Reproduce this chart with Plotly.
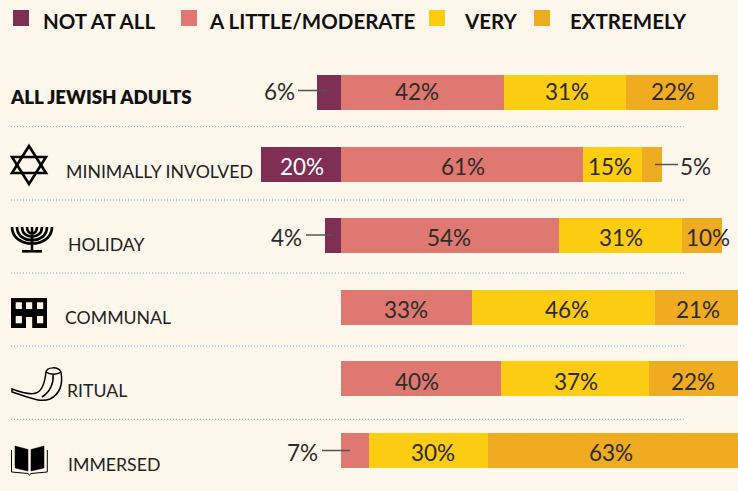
import plotly.graph_objects as go

# ---- data ----
categories = ["ALL JEWISH ADULTS", "MINIMALLY INVOLVED", "HOLIDAY", "COMMUNAL", "RITUAL", "IMMERSED"]
series_names = ["NOT AT ALL", "A LITTLE/MODERATE", "VERY", "EXTREMELY"]
not_at_all = [-6.05, -20.15, -4.0, 0, 0, 0]
little = [41.06, 60.96, 54.9, 33.0, 40.3, 7.05]
very = [30.73, 14.86, 31.0, 46.1, 37.3, 30.0]
extremely = [23.17, 5.04, 10.08, 20.9, 22.4, 62.95]
labels_not = ["6%", "20%", "4%", "", "", ""]
labels_little = ["42%", "61%", "54%", "33%", "40%", "7%"]
labels_very = ["31%", "15%", "31%", "46%", "37%", "30%"]
labels_ext = ["22%", "5%", "10%", "21%", "22%", "63%"]
colors = ["#7F2F54", "#DE7871", "#FBCC11", "#F0AC20"]

# ---- page geometry ----
W, H = 738, 491
BG = "#FEF7EC"
INK = "#2E2B2A"
FONT = "Lato"
px = lambda x: x / W
py = lambda y: 1 - y / H
ZERO_X, UNIT = 341, 3.97
ROW0, ROW_STEP = 92.5, 71.6

fig = go.Figure()
for name, vals, col in zip(series_names, [not_at_all, little, very, extremely], colors):
    fig.add_bar(y=categories, x=vals, name=name, orientation="h", marker=dict(color=col, line_width=0),
                width=35 / ROW_STEP, showlegend=False, hoverinfo="x+y+name")

ann, shp = [], []


def text(x, y, s, size, color=INK, weight=400, anchor="left"):
    ann.append(dict(x=px(x), y=py(y), xref="paper", yref="paper", text=s, showarrow=False, xanchor=anchor,
                    yanchor="middle", font=dict(family=FONT, size=size, color=color, weight=weight)))


def line(x0, y0, x1, y1, color="#555", width=1.5, dash="solid"):
    shp.append(dict(type="line", xref="paper", yref="paper", x0=px(x0), y0=py(y0), x1=px(x1), y1=py(y1),
                    line=dict(color=color, width=width, dash=dash), layer="above"))


def path(cmds, fill=None, width=0, color="#000"):
    """cmds is a list of (letter, x, y, x, y...) tuples in page pixels."""
    out = []
    for c in cmds:
        if c[0] == "Z":
            out.append("Z")
            continue
        nums = c[1:]
        pts = " ".join(f"{px(nums[i]):.5f},{py(nums[i + 1]):.5f}" for i in range(0, len(nums), 2))
        out.append(c[0] + " " + pts)
    shp.append(dict(type="path", xref="paper", yref="paper", path=" ".join(out), layer="above",
                    fillcolor=fill if fill else "rgba(0,0,0,0)",
                    line=dict(color=color, width=width)))


def rect(x0, y0, x1, y1, fill):
    shp.append(dict(type="rect", xref="paper", yref="paper", x0=px(x0), y0=py(y0), x1=px(x1), y1=py(y1),
                    fillcolor=fill, line_width=0, layer="above"))


# legend
for sq_x, tx, name, col in zip([13, 181, 429, 534], [41, 207, 462, 568], series_names, colors):
    rect(sq_x, 10, sq_x + 16, 26, col)
    text(tx, 21, name, 20.5, "#111", 700)

# row titles
text(8, 97, categories[0], 18.7, "#111", 800)
for x, y, s in zip([64, 66, 63, 65, 66], [171, 244, 317, 390, 464], categories[1:]):
    text(x, y, s, 17.7, "#222", 400)

# value labels
LABEL_Y = [92, 166, 238, 309, 381, 452]
LABEL_X = [
    [279, 417, 567, 673],
    [302, 463, 610, 695],
    [286, 449, 621, 708],
    [None, 406, 567, 698],
    [None, 417, 576, 693],
    [None, 302, 433, 611],
]
for i in range(len(categories)):
    row = [labels_not[i], labels_little[i], labels_very[i], labels_ext[i]]
    for j, s in enumerate(row):
        if s:
            c = "#FFFFFF" if (i == 1 and j == 0) else INK
            text(LABEL_X[i][j], LABEL_Y[i], s, 22.5, c, 400, "center")

# leader lines
line(298, 90.5, 327, 90.5)
line(655, 164.5, 678, 164.5)
line(306, 235, 333, 235)
line(322, 450.5, 350, 450.5)

# separators
for y in [126.7, 200, 273, 346, 419.3]:
    line(11, y, 684, y, "#5FAEF0", 1, "1px,2px")

# star
path([("M", 29, 146), ("L", 12, 173), ("L", 46, 173), ("Z",)], width=2.6)
path([("M", 29, 184), ("L", 12, 157), ("L", 46, 157), ("Z",)], width=2.6)

# menorah
for r, h in [(20, 17), (15, 13.5), (10, 10), (5, 6.5)]:
    path([("M", 32 - r, 227), ("C", 32 - r, 227 + h * 1.3, 32 + r, 227 + h * 1.3, 32 + r, 227)], width=2.7)
line(32, 227, 32, 251, "#000", 2.6)
line(22, 251.3, 42, 251.3, "#000", 2.6)

# building
rect(11, 298, 47, 328, "#000")
for wx in [15.7, 26, 37]:
    rect(wx, 302.3, wx + 6.2, 309, BG)
for wx in [15.7, 37]:
    rect(wx, 316, wx + 6.2, 323.3, BG)
rect(26, 317, 32.2, 328, BG)

# shofar
path([("M", 12, 389), ("C", 20, 392, 30, 395, 36, 393), ("C", 43, 391, 45, 381, 46, 372),
      ("C", 47, 367, 58, 366, 61, 372), ("C", 63, 384, 60, 394, 50, 399),
      ("C", 40, 403, 28, 397, 12, 392), ("Z",)], width=1.5)
path([("M", 46, 372), ("C", 50, 375, 57, 375, 61, 372)], width=1.5)
path([("M", 53, 375), ("C", 54, 383, 50, 392, 42, 397)], width=1.5)

# book
path([("M", 15, 446), ("L", 28, 449.5), ("L", 28, 471), ("L", 15, 468), ("Z",)], fill="#000", width=0.5)
path([("M", 31, 449.5), ("L", 44, 446), ("L", 44, 468), ("L", 31, 471), ("Z",)], fill="#000", width=0.5)
path([("M", 11.5, 450), ("L", 11.5, 472), ("L", 28, 473.5), ("L", 29.5, 475), ("L", 31, 473.5),
      ("L", 47.3, 472), ("L", 47.3, 450)], width=1)

fig.update_layout(
    width=W, height=H, autosize=False, barmode="relative", bargap=0,
    paper_bgcolor=BG, plot_bgcolor=BG, margin=dict(l=0, r=0, t=0, b=0), showlegend=False,
    font=dict(family=FONT, color=INK),
    xaxis=dict(range=[-ZERO_X / UNIT, (W - ZERO_X) / UNIT], visible=False, domain=[0, 1], fixedrange=True),
    yaxis=dict(type="category", categoryorder="array", categoryarray=categories, visible=False,
               range=[(H - ROW0) / ROW_STEP, -ROW0 / ROW_STEP], domain=[0, 1], fixedrange=True),
    annotations=ann, shapes=shp,
)
fig.write_html("out.html", config=dict(displayModeBar=False),
               post_script="document.body.style.margin='0';document.body.style.background='%s';"
                           "document.documentElement.style.overflow='hidden';" % BG)
